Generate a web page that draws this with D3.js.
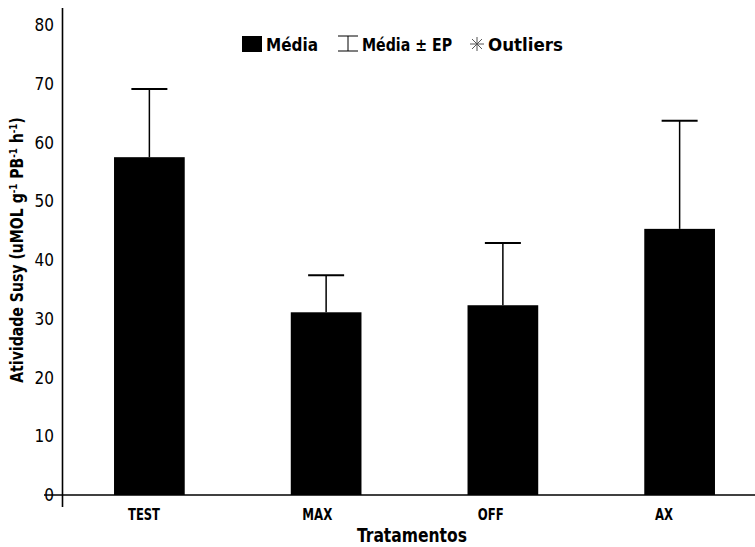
<!DOCTYPE html>
<html><head><meta charset="utf-8">
<script src="https://cdn.jsdelivr.net/npm/d3@7"></script>
<style>
body{margin:0;background:#fff}
svg{display:block}
text{font-family:"DejaVu Sans Condensed","Liberation Sans Narrow",Arial,sans-serif}
</style></head>
<body><svg id="c" width="755" height="547"></svg>
<script>
const categories = ["TEST","MAX","OFF","AX"];
const means = [57.5, 31.1, 32.3, 45.3];
const upperErr = [69.1, 37.4, 42.9, 63.7];
const yTicks = [0,10,20,30,40,50,60,70,80];

const svg = d3.select("#c");
const y = d3.scaleLinear().domain([0,80]).range([495,25]);
const x = d3.scaleBand().domain(categories).range([61,768]).paddingInner(0.6).paddingOuter(0.3);
const xl = d3.scalePoint().domain(categories).range([144,664]);

// y axis line
svg.append("line").attr("x1",62.5).attr("x2",62.5).attr("y1",8).attr("y2",507).attr("stroke","#000").attr("stroke-width",1.6);

// y tick labels
svg.selectAll(".yt").data(yTicks).enter().append("text")
  .attr("x",54).attr("y",d=>y(d)).attr("dy","0.36em").attr("text-anchor","end")
  .attr("font-size",17).text(d=>d);

// bars
svg.selectAll(".bar").data(categories).enter().append("rect")
  .attr("x",d=>x(d)).attr("width",x.bandwidth())
  .attr("y",(d,i)=>y(means[i])).attr("height",(d,i)=>y(0)-y(means[i]))
  .attr("fill","#000");

// error bars
const cw = 36;
categories.forEach((c,i)=>{
  const cx = x(c)+x.bandwidth()/2;
  svg.append("line").attr("x1",cx).attr("x2",cx).attr("y1",y(means[i])).attr("y2",y(upperErr[i])).attr("stroke","#000").attr("stroke-width",1.5);
  svg.append("line").attr("x1",cx-cw/2).attr("x2",cx+cw/2).attr("y1",y(upperErr[i])).attr("y2",y(upperErr[i])).attr("stroke","#000").attr("stroke-width",2);
});

// x axis line
svg.append("line").attr("x1",44).attr("x2",755).attr("y1",y(0)).attr("y2",y(0)).attr("stroke","#000").attr("stroke-width",1.6);

// category labels
const catW = {TEST:32, MAX:30, OFF:26, AX:18};
svg.selectAll(".xt").data(categories).enter().append("text")
  .attr("x",d=>xl(d)).attr("y",520).attr("text-anchor","middle")
  .attr("font-size",16).attr("font-weight","bold")
  .attr("textLength",d=>catW[d]).attr("lengthAdjust","spacingAndGlyphs").text(d=>d);

// x title
svg.append("text").attr("x",412).attr("y",542).attr("text-anchor","middle")
  .attr("font-size",19).attr("font-weight","bold")
  .attr("textLength",110).attr("lengthAdjust","spacingAndGlyphs").text("Tratamentos");

// y title
const yt = svg.append("text").attr("transform","translate(23,250) rotate(-90) scale(0.87,1)")
  .attr("text-anchor","middle").attr("font-size",18).attr("font-weight","bold");
yt.append("tspan").text("Atividade Susy (uMOL g");
yt.append("tspan").attr("dy",-6).attr("font-size",11).text("-1");
yt.append("tspan").attr("dy",6).text(" PB");
yt.append("tspan").attr("dy",-6).attr("font-size",11).text("-1");
yt.append("tspan").attr("dy",6).text(" h");
yt.append("tspan").attr("dy",-6).attr("font-size",11).text("-1");
yt.append("tspan").attr("dy",6).text(")");

// legend
const lg = svg.append("g");
lg.append("rect").attr("x",242).attr("y",36).attr("width",20).attr("height",16).attr("fill","#000");
lg.append("text").attr("x",266).attr("y",51).attr("font-size",18).attr("font-weight","bold")
  .attr("textLength",52).attr("lengthAdjust","spacingAndGlyphs").text("Média");
// error symbol
const ex=348;
lg.append("line").attr("x1",ex-10).attr("x2",ex+10).attr("y1",36).attr("y2",36).attr("stroke","#000").attr("stroke-width",1);
lg.append("line").attr("x1",ex-10).attr("x2",ex+10).attr("y1",51).attr("y2",51).attr("stroke","#000").attr("stroke-width",1);
lg.append("line").attr("x1",ex).attr("x2",ex).attr("y1",36).attr("y2",51).attr("stroke","#000").attr("stroke-width",1);
lg.append("text").attr("x",362).attr("y",51).attr("font-size",18).attr("font-weight","bold")
  .attr("textLength",90).attr("lengthAdjust","spacingAndGlyphs").text("Média ± EP");
// asterisk
const ax=477, ay=44;
[0,45,90,135].forEach(a=>{
  const r=7, t=a*Math.PI/180;
  lg.append("line").attr("x1",ax-r*Math.cos(t)).attr("x2",ax+r*Math.cos(t))
    .attr("y1",ay-r*Math.sin(t)).attr("y2",ay+r*Math.sin(t)).attr("stroke","#555").attr("stroke-width",1);
});
lg.append("text").attr("x",488).attr("y",51).attr("font-size",18).attr("font-weight","bold")
  .attr("textLength",75).attr("lengthAdjust","spacingAndGlyphs").text("Outliers");
</script></body></html>
